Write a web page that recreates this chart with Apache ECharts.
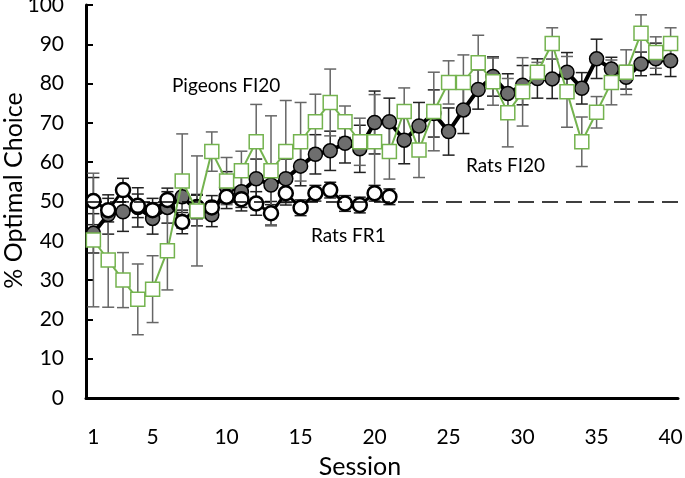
<!DOCTYPE html>
<html><head><meta charset="utf-8">
<script src="https://cdn.jsdelivr.net/npm/echarts@6/dist/echarts.min.js"></script>
<style>html,body{margin:0;padding:0;background:#fff}#c{width:685px;height:478px}</style>
</head><body><div id="c"></div>
<script>
const sessions = Array.from({length:40},(_,i)=>i+1);
const xTickLabels = [1,5,10,15,20,25,30,35,40];
const pigeonsFI20 = [40.2,35.1,30.0,25.1,27.7,37.5,55.2,47.6,62.7,55.2,57.8,65.2,57.8,62.7,65.2,70.3,75.2,70.3,65.2,65.2,62.7,72.9,63.1,72.9,80.3,80.3,85.3,80.5,72.6,77.9,82.9,90.2,77.9,65.2,72.7,80.3,82.9,92.8,87.9,90.2];
const pigeonsErr = [17,12,7,9,8.5,10,12,14,5,6,5,9.5,14,13,10,7,8.5,4,6,12,7,6,7,10,5.5,7,7,6,8.7,8.7,2.5,4,9,6.3,4,5.7,5.7,4.7,4,4];
const ratsFI20 = [41.9,46.7,47.4,48.5,45.7,48.5,51.2,47.8,46.6,53.6,52.5,55.8,54.2,55.8,59.0,62.0,62.9,64.8,63.4,70.1,70.3,65.6,69.2,72.4,67.8,73.3,78.5,81.8,77.5,79.6,81.3,81.2,82.9,78.8,86.3,83.7,81.6,85.0,86.3,85.8];
const ratsFI20Err = [5,5,5,5,4,4,4,4,3,4,4,5,5,5,5,5,5,5,6,8,6,6,6,6,6,6,5,5,5,5,5,5,5,4,5,3,3,3,4,4];
const ratsFR1 = [50.1,47.8,52.9,48.9,47.8,50.4,44.8,48.6,48.5,51.2,50.6,49.5,47.0,52.1,48.4,52.1,52.9,49.5,49.1,52.1,51.2];
const ratsFR1Err = [6,3,3,3,3,3,3,3,3,3,3,3,3,3,2,2,2,2,2,2,2];
const chanceLevel = 50;

const FONT = 'Lato';
const GREEN = '#74B34F';

function pts(vals){ return vals.map((v,i)=>[sessions[i], v]); }
function errs(vals, e){ return vals.map((v,i)=>[sessions[i], v - e[i], v + e[i]]); }
function errSeries(data, color, z){
  return {
    type:'custom', data, z, silent:true,
    renderItem:function(params, api){
      const x = api.value(0);
      const a = api.coord([x, api.value(1)]);
      const b = api.coord([x, api.value(2)]);
      const w = 6;
      const st = {stroke:color, lineWidth:1.5};
      return {type:'group', children:[
        {type:'line', shape:{x1:a[0],y1:a[1],x2:b[0],y2:b[1]}, style:st},
        {type:'line', shape:{x1:a[0]-w,y1:a[1],x2:a[0]+w,y2:a[1]}, style:st},
        {type:'line', shape:{x1:b[0]-w,y1:b[1],x2:b[0]+w,y2:b[1]}, style:st}
      ]};
    }
  };
}

const chart = echarts.init(document.getElementById('c'), null, {renderer:'canvas'});
chart.setOption({
  animation:false,
  backgroundColor:'#fff',
  grid:{left:86, right:7, top:5, bottom:80, containLabel:false, outerBoundsMode:'none'},
  xAxis:{
    type:'value', min:0.5, max:40.5,
    name:'Session', nameLocation:'middle', nameGap:56, nameMoveOverlap:false,
    nameTextStyle:{fontFamily:FONT, fontSize:25, color:'#000', padding:[0,44,0,0]},
    axisLine:{show:true, onZero:false, lineStyle:{color:'#000', width:3}},
    axisTick:{show:false},
    splitLine:{show:false},
    axisLabel:{customValues:xTickLabels, fontFamily:FONT, fontSize:21, color:'#000', margin:29}
  },
  yAxis:{
    type:'value', min:0, max:100, interval:10,
    name:'% Optimal Choice', nameLocation:'middle', nameGap:60, nameRotate:90, nameMoveOverlap:false,
    nameTextStyle:{fontFamily:FONT, fontSize:25, color:'#000', padding:[0,0,0,22]},
    axisLine:{show:true, lineStyle:{color:'#000', width:3}},
    axisTick:{show:true, inside:true, length:7, lineStyle:{color:'#000', width:2}},
    splitLine:{show:false},
    axisLabel:{fontFamily:FONT, fontSize:21, color:'#000', margin:22}
  },
  series:[
    errSeries(errs(ratsFI20, ratsFI20Err), '#222', 1),
    errSeries(errs(ratsFR1, ratsFR1Err), '#222', 1),
    errSeries(errs(pigeonsFI20, pigeonsErr), '#666', 1),
    {
      name:'Rats FI20', type:'line', data:pts(ratsFI20), z:3,
      symbol:'circle', symbolSize:14,
      lineStyle:{color:'#000', width:4},
      itemStyle:{color:'#6E6E6E', borderColor:'#000', borderWidth:1.5},
      markLine:{silent:true, symbol:'none', label:{show:false},
        lineStyle:{color:'#000', type:[16,8], width:1.5},
        data:[{yAxis:chanceLevel}]}
    },
    {
      name:'Rats FR1', type:'line', data:pts(ratsFR1), z:4,
      symbol:'circle', symbolSize:14,
      lineStyle:{color:'#000', width:3},
      itemStyle:{color:'#fff', borderColor:'#000', borderWidth:2.5}
    },
    {
      name:'Pigeons FI20', type:'line', data:pts(pigeonsFI20), z:5,
      symbol:'rect', symbolSize:14,
      lineStyle:{color:GREEN, width:2},
      itemStyle:{color:'#fff', borderColor:GREEN, borderWidth:1.5}
    }
  ],
  graphic:[
    {type:'text', left:172, top:76, style:{text:'Pigeons FI20', font:'19px Lato', fill:'#000'}},
    {type:'text', left:466, top:156, style:{text:'Rats FI20', font:'19px Lato', fill:'#000'}},
    {type:'text', left:311, top:226, style:{text:'Rats FR1', font:'19px Lato', fill:'#000'}}
  ]
});
</script></body></html>
